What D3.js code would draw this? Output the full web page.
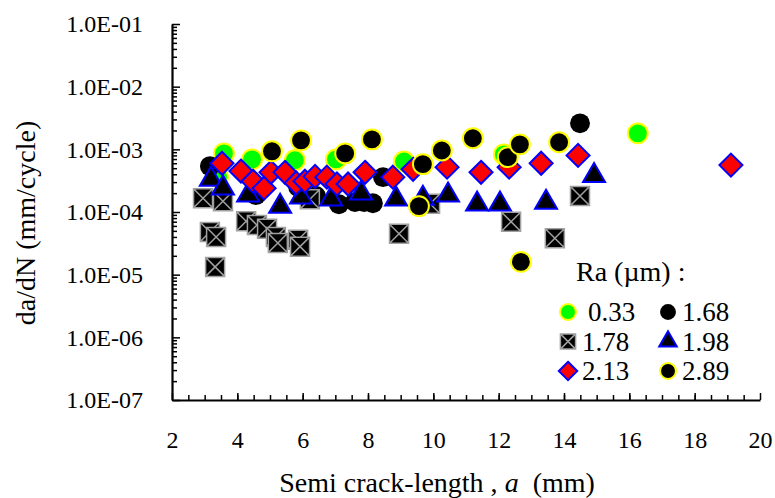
<!DOCTYPE html>
<html>
<head>
<meta charset="utf-8">
<script src="https://cdn.jsdelivr.net/npm/d3@7"></script>
<style>
  body { margin: 0; background: #fff; }
</style>
</head>
<body>
<div id="chart"></div>
<script>
// Ra values (legend)
var raLabels = ["0.33", "1.68", "1.78", "1.98", "2.13", "2.89"];

// semi crack length a (mm) and da/dN (mm/cycle) per Ra
var a033 = [3.59, 3.41, 4.45, 5.76, 7.02, 9.10, 12.16, 16.26];
var r033 = [8.6e-4, 3.6e-4, 6.9e-4, 6.7e-4, 6.9e-4, 6.4e-4, 8.3e-4, 1.8e-3];

var a168 = [3.16, 4.57, 5.86, 6.41, 7.11, 7.60, 7.88, 8.15, 8.46, 14.49];
var r168 = [5.4e-4, 1.86e-4, 2.5e-4, 1.8e-4, 1.33e-4, 1.44e-4, 1.44e-4, 1.38e-4, 3.6e-4, 2.6e-3];

var a178 = [2.95, 3.56, 3.16, 3.35, 3.32, 4.27, 4.60, 4.91, 5.18, 5.24, 5.86, 5.92, 6.22, 8.95, 9.90, 12.38, 13.72, 14.49];
var r178 = [1.66e-4, 1.48e-4, 4.8e-5, 4.0e-5, 1.33e-5, 7.1e-5, 6.2e-5, 5.4e-5, 4.0e-5, 3.2e-5, 3.6e-5, 2.8e-5, 1.6e-4, 4.5e-5, 1.35e-4, 7.0e-5, 3.8e-5, 1.8e-4];

var a198 = [3.19, 3.56, 4.33, 5.31, 5.95, 6.87, 7.79, 8.86, 9.68, 10.45, 11.34, 12.04, 13.45, 14.92];
var r198 = [3.3e-4, 2.4e-4, 1.86e-4, 1.23e-4, 1.72e-4, 1.6e-4, 2.0e-4, 1.6e-4, 1.65e-4, 1.85e-4, 1.33e-4, 1.33e-4, 1.42e-4, 3.8e-4];

var a213 = [3.53, 4.11, 4.48, 4.82, 5.03, 5.46, 5.80, 6.07, 6.38, 6.74, 7.05, 7.39, 7.91, 8.76, 9.38, 10.42, 11.46, 12.32, 13.30, 14.43, 19.11];
var r213 = [6.0e-4, 4.5e-4, 3.1e-4, 2.4e-4, 4.3e-4, 4.3e-4, 2.9e-4, 3.1e-4, 3.7e-4, 3.6e-4, 2.8e-4, 2.8e-4, 4.3e-4, 3.6e-4, 4.8e-4, 5.2e-4, 4.3e-4, 5.2e-4, 6.0e-4, 8.0e-4, 5.6e-4];

var a289 = [5.06, 5.95, 7.30, 8.12, 9.56, 9.68, 10.26, 11.21, 12.28, 12.65, 12.68, 13.85];
var r289 = [9.3e-4, 1.39e-3, 8.6e-4, 1.44e-3, 1.24e-4, 5.8e-4, 9.6e-4, 1.5e-3, 7.5e-4, 1.2e-3, 1.6e-5, 1.3e-3];

var xTickLabels = [2, 4, 6, 8, 10, 12, 14, 16, 18, 20];
var yTickLabels = [1e-7, 1e-6, 1e-5, 1e-4, 1e-3, 1e-2, 1e-1];

var chartW = 775, chartH = 498;
var FONT = "'Liberation Serif'";

var svg = d3.select("#chart").append("svg")
    .attr("width", chartW)
    .attr("height", chartH);

var xs = d3.scaleLinear().domain([2, 20]).range([172, 760]);
var ys = d3.scaleLog().domain([1e-7, 1e-1]).range([400, 24]);

// marker styles
var markers = [
    {shape: "circle",   fill: "#00ff00", stroke: "#ffff00", sw: 2},
    {shape: "circle",   fill: "#000",    stroke: "none",    sw: 0},
    {shape: "boxx",     fill: "#000",    stroke: "#a0a0a0", sw: 1.5},
    {shape: "triangle", fill: "#000",    stroke: "#0000ff", sw: 2},
    {shape: "diamond",  fill: "#ff0000", stroke: "#0000ff", sw: 2},
    {shape: "circle",   fill: "#000",    stroke: "#ffff00", sw: 2}
];

function markerPath(shape, k) {
    if (shape == "circle") return d3.symbol(d3.symbolCircle, 310 * k * k)();
    if (shape == "triangle") return d3.symbol(d3.symbolTriangle, 210 * k * k)();
    if (shape == "diamond") {
        var h = 11.5 * k;
        return "M0," + (-h) + "L" + h + ",0L0," + h + "L" + (-h) + ",0Z";
    }
    var s = 9.5 * k;
    return "M" + (-s) + "," + (-s) + "h" + (2 * s) + "v" + (2 * s) + "h" + (-2 * s) + "Z" +
        "M" + (-s) + "," + (-s) + "L" + s + "," + s +
        "M" + s + "," + (-s) + "L" + (-s) + "," + s;
}

var seriesA = [a033, a168, a178, a198, a213, a289];
var seriesR = [r033, r168, r178, r198, r213, r289];

// axes
var xMinor = d3.axisBottom(xs).tickValues(d3.range(2.5, 20, 0.5)).tickSize(-5).tickSizeOuter(0).tickFormat("");
svg.append("g").attr("transform", "translate(0,400)").call(xMinor)
    .call(function(g) { g.select(".domain").remove(); });

var xAxis = d3.axisBottom(xs).tickValues(xTickLabels).tickSize(-7).tickSizeOuter(0).tickPadding(31);
var gx = svg.append("g").attr("transform", "translate(0,400)").call(xAxis);
gx.selectAll("text").style("font-family", FONT).style("font-size", "24px").attr("fill", "#000");

var yMinorVals = [];
for (var ex = -7; ex < -1; ex++) {
    for (var mm = 2; mm <= 9; mm++) yMinorVals.push(mm * Math.pow(10, ex));
}
var yMinor = d3.axisLeft(ys).tickValues(yMinorVals).tickSize(-5).tickSizeOuter(0).tickFormat("");
svg.append("g").attr("transform", "translate(172,0)").call(yMinor)
    .call(function(g) { g.select(".domain").remove(); });

var yAxis = d3.axisLeft(ys).tickValues(yTickLabels).tickSize(-8).tickSizeOuter(0).tickPadding(29)
    .tickFormat(function(d) {
        var p = Math.round(-Math.log10(d));
        return "1.0E-" + (p < 10 ? "0" + p : p);
    });
var gy = svg.append("g").attr("transform", "translate(172,0)").call(yAxis);
gy.selectAll("text").style("font-family", FONT).style("font-size", "24px").attr("fill", "#000");

svg.selectAll(".domain").attr("stroke", "#000").attr("stroke-width", 2.2);
svg.selectAll(".tick line").attr("stroke", "#000").attr("stroke-width", 1.5);

// axis titles
var xt = svg.append("text")
    .attr("x", 437).attr("y", 492)
    .attr("text-anchor", "middle")
    .attr("font-size", 28)
    .style("font-family", FONT);
xt.append("tspan").text("Semi crack-length , ");
xt.append("tspan").attr("font-style", "italic").text("a");
xt.append("tspan").attr("dx", 7).text(" (mm)");

svg.append("text")
    .attr("transform", "translate(35,223) rotate(-90)")
    .attr("text-anchor", "middle")
    .attr("font-size", 28)
    .style("font-family", FONT)
    .text("da/dN (mm/cycle)");

// points
seriesA.forEach(function(arr, i) {
    var pts = arr.map(function(d, j) { return [d, seriesR[i][j]]; });
    svg.append("g").selectAll("path")
        .data(pts)
        .enter().append("path")
        .attr("transform", function(d) { return "translate(" + xs(d[0]) + "," + ys(d[1]) + ")"; })
        .attr("d", markerPath(markers[i].shape, 1))
        .attr("fill", markers[i].fill)
        .attr("stroke", markers[i].stroke)
        .attr("stroke-width", markers[i].sw);
});

// legend
var legendBox = svg.append("g");
legendBox.append("text")
    .attr("x", 576).attr("y", 281)
    .attr("font-size", 28)
    .style("font-family", FONT)
    .text("Ra (\u00b5m) :");

var legendItems = legendBox.selectAll("g.item")
    .data(raLabels)
    .enter().append("g")
    .attr("class", "item")
    .attr("transform", function(d, i) {
        return "translate(" + (568 + (i % 2) * 100) + "," + (312 + Math.floor(i / 2) * 29.5) + ")";
    });

legendItems.append("path")
    .attr("d", function(d, i) { return markerPath(markers[i].shape, 0.8); })
    .attr("fill", function(d, i) { return markers[i].fill; })
    .attr("stroke", function(d, i) { return markers[i].stroke; })
    .attr("stroke-width", function(d, i) { return markers[i].sw; });

legendItems.append("text")
    .attr("x", function(d, i) { return i == 0 ? 20 : 14; })
    .attr("y", 9)
    .attr("font-size", 27)
    .style("font-family", FONT)
    .text(function(d) { return d; });
</script>
</body>
</html>
